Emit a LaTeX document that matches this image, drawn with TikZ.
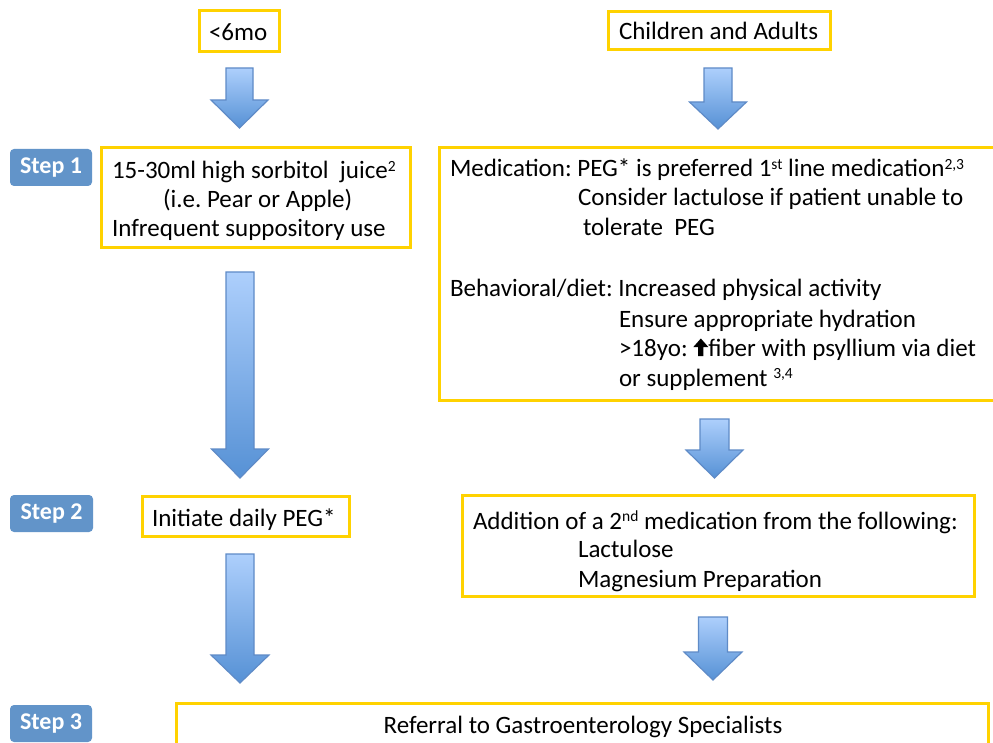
\documentclass[tikz,border=0pt]{standalone}
\usepackage{fontspec}
\setmainfont{Carlito}
\frenchspacing
\definecolor{ygold}{RGB}{255,210,0}
\definecolor{stepblue}{RGB}{98,148,201}
\definecolor{arrtop}{RGB}{173,207,252}
\definecolor{arrbot}{RGB}{86,145,213}
\definecolor{arredge}{RGB}{95,139,199}
\newcommand\sups[1]{\raisebox{7.5pt}{\fontsize{15.5}{15.5}\selectfont #1}}
\newcommand\uparr{\tikz[x=1pt,y=1pt,baseline=0pt]{\fill[black] (-2.6,0) -- (2.6,0) -- (2.6,9) -- (7.5,9) -- (0,17.5) -- (-7.5,9) -- (-2.6,9) -- cycle;}}
\newcommand\blkarrow[7]{% name, cx, ytop, yhead, ytip, half shaft, half head
  \coordinate (#1s) at (#2,#3);
  \coordinate (#1e) at (#2,#5);
  \path[arrowsty] ({#2-#6},#3) -- ({#2+#6},#3) -- ({#2+#6},#4) -- ({#2+#7},#4) -- (#1e) -- ({#2-#7},#4) -- ({#2-#6},#4) -- cycle;}
\tikzset{
  ybox/.style={draw=ygold, line width=3.2pt, fill=white, inner sep=0pt, outer sep=0pt},
  txt/.style={anchor=base west, inner sep=0pt, outer sep=0pt, font=\fontsize{25}{30}\selectfont\frenchspacing},
  steplbl/.style={fill=stepblue, rounded corners=4pt, text=white, inner sep=0pt,
     minimum width=82pt, minimum height=37pt, font=\fontsize{24}{28}\selectfont\bfseries},
  arrowsty/.style={top color=arrtop, bottom color=arrbot, draw=arredge, line width=1.2pt, line join=miter}
}
\begin{document}
\begin{tikzpicture}[x=1pt,y=-1pt]
\useasboundingbox (0,0) rectangle (993,743);
\clip (0,0) rectangle (993,743);
\fill[white] (0,0) rectangle (993,743);

% boxes
\node[ybox, minimum width=80pt, minimum height=41pt] (b6) at (239.5,31) {};
\node[ybox, minimum width=222pt, minimum height=38pt] (bca) at (719.5,30.5) {};
\node[ybox, minimum width=309pt, minimum height=100pt] (s1l) at (256,197.5) {};
\node[ybox, minimum width=570pt, minimum height=253pt] (s1r) at (724.5,274) {};
\node[ybox, minimum width=207pt, minimum height=40pt] (s2l) at (246,516.5) {};
\node[ybox, minimum width=512pt, minimum height=101pt] (s2r) at (718.5,546) {};
\node[ybox, minimum width=812pt, minimum height=73pt] (s3) at (582.5,740) {};

% step labels
\node[steplbl] (st1) at (51,167.5) {Step 1};
\node[steplbl, minimum width=83pt] (st2) at (51.5,513.5) {Step 2};
\node[steplbl] (st3) at (51,723.5) {Step 3};

% texts
\node[txt] (t6) at (209,41) {<6mo};
\node[txt] (tca) at (619,40) {Children and Adults};

\node[txt] (t1a) at (112,179) {15-30ml high sorbitol\ \ juice\sups{2}};
\node[txt] (t1b) at (163,208) {(i.e. Pear or Apple)};
\node[txt] (t1c) at (112,237) {Infrequent suppository use};

\node[txt] (r1a) at (450,177) {Medication: PEG* is preferred 1\sups{st} line medication\sups{2,3}};
\node[txt] (r1b) at (578,206) {Consider lactulose if patient unable to};
\node[txt] (r1c) at (583,236) {tolerate\ \ PEG};
\node[txt] (r1d) at (450,297) {Behavioral/diet: Increased physical activity};
\node[txt] (r1e) at (619,327) {Ensure appropriate hydration};
\node[txt] (r1f) at (619,356) {>18yo: \uparr fiber with psyllium via diet};
\node[txt] (r1g) at (619,386) {or supplement \sups{3,4}};

\node[txt] (t2) at (152,526) {Initiate daily PEG*};
\node[txt] (r2a) at (473,529) {Addition of a 2\sups{nd} medication from the following:};
\node[txt] (r2b) at (578,557) {Lactulose};
\node[txt] (r2c) at (578,587) {Magnesium Preparation};

\node[txt, anchor=base] (t3) at (583,733) {Referral to Gastroenterology Specialists};

% block arrows
\blkarrow{a1}{239.5}{68}{100}{128}{13.5}{28.5}
\blkarrow{a2}{718}{68}{102}{129}{14}{28.5}
\blkarrow{a3}{240}{272}{449}{478}{14}{28.5}
\blkarrow{a4}{714.5}{419}{450}{478}{14.5}{28.5}
\blkarrow{a5}{240}{554}{655}{683}{14}{29}
\blkarrow{a6}{713}{617}{652}{680}{14.5}{29}
\end{tikzpicture}
\end{document}
